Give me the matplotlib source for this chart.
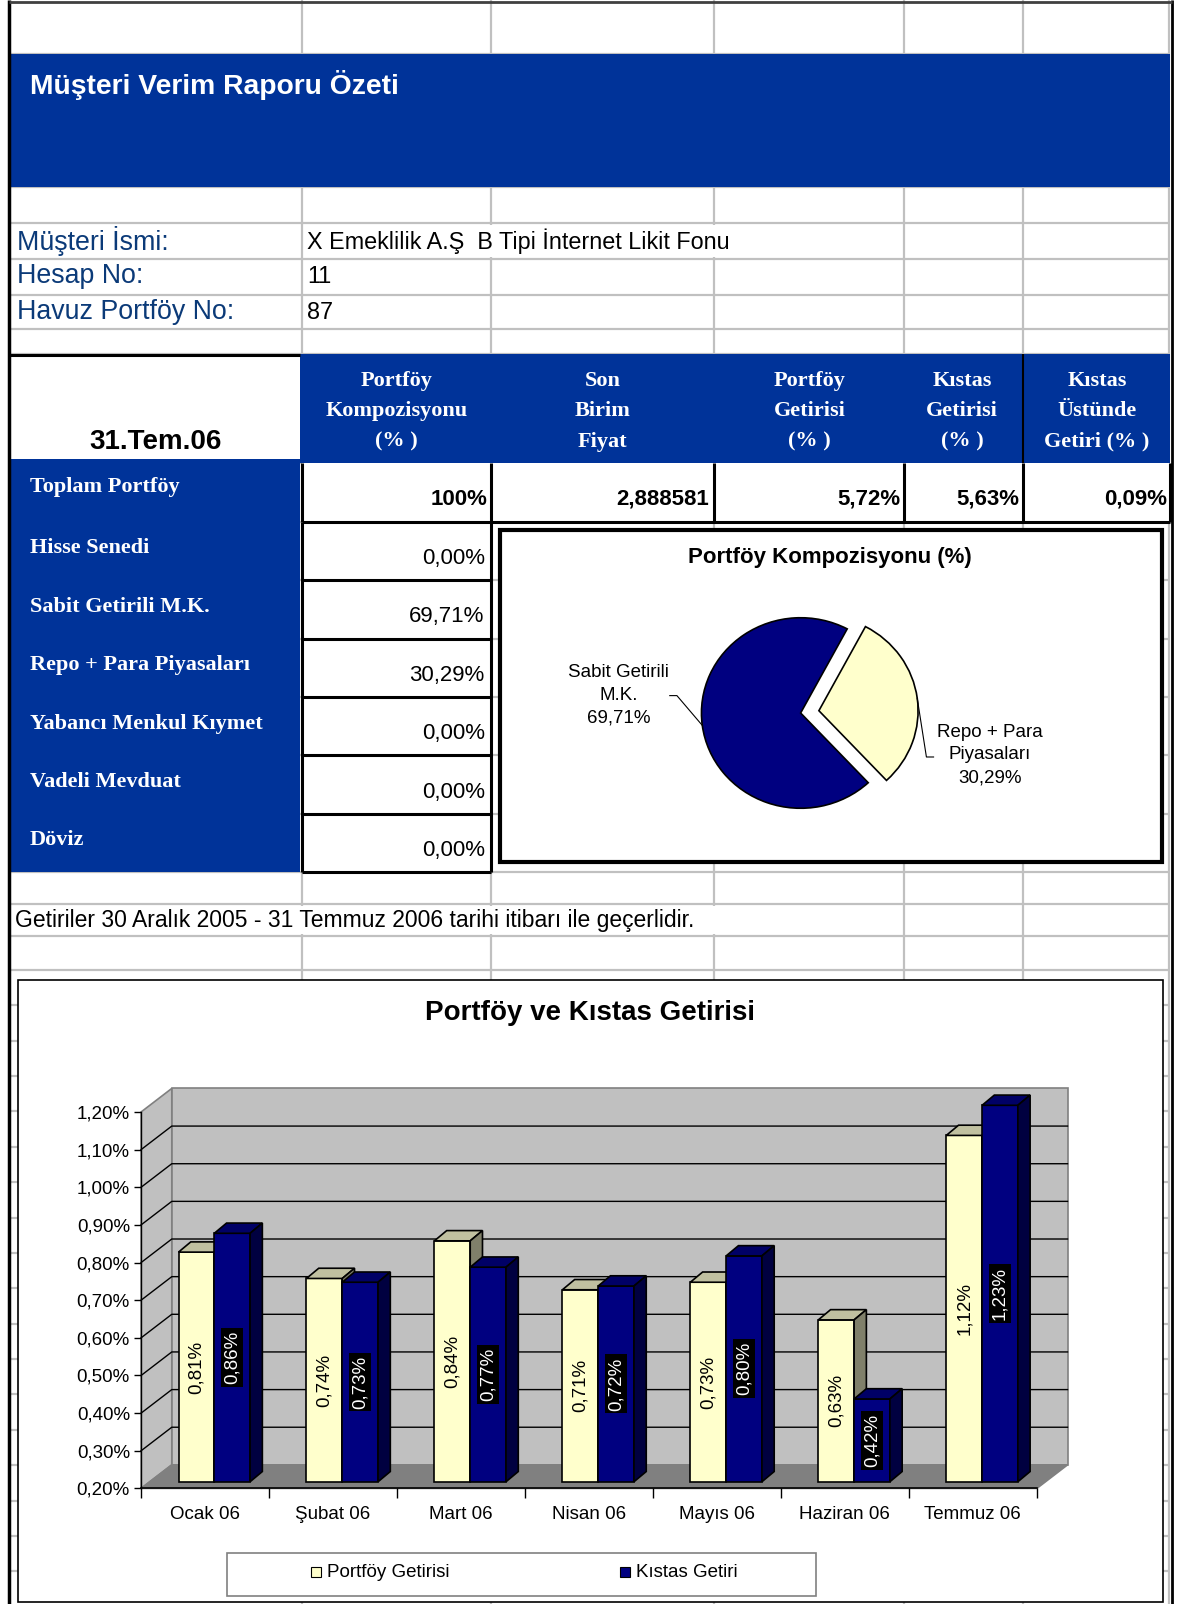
import numpy as np
import matplotlib
matplotlib.use("Agg")
import matplotlib.pyplot as plt
from matplotlib.patches import Rectangle, Polygon

SANS = "Liberation Sans"
SERIF = "Liberation Serif"
plt.rcParams["font.family"] = [SANS, "DejaVu Sans"]

# sheet layout units (scaled onto the 1180x1604 output)
W, H = 1154, 1568

HEAD_BLUE = "#003399"
LABEL_BLUE = "#0B3A78"
NAVY = "#000080"
CREAM = "#FFFFCC"
GRID = "#C0C0C0"

report_title = "Müşteri Verim Raporu Özeti"
info_labels = ["Müşteri İsmi:", "Hesap No:", "Havuz Portföy No:"]
info_values = ["X Emeklilik A.Ş  B Tipi İnternet Likit Fonu", "11", "87"]
report_date = "31.Tem.06"
col_headers = [
    ["Portföy", "Kompozisyonu", "(% )"],
    ["Son", "Birim", "Fiyat"],
    ["Portföy", "Getirisi", "(% )"],
    ["Kıstas", "Getirisi", "(% )"],
    ["Kıstas", "Üstünde", "Getiri (% )"],
]
asset_names = ["Hisse Senedi", "Sabit Getirili M.K.", "Repo + Para Piyasaları",
               "Yabancı Menkul Kıymet", "Vadeli Mevduat", "Döviz"]
asset_shares = [0.00, 69.71, 30.29, 0.00, 0.00, 0.00]
unit_price = "2,888581"
portfolio_return = 5.72
benchmark_return = 5.63
note = "Getiriler 30 Aralık 2005 - 31 Temmuz 2006 tarihi itibarı ile geçerlidir."

pie_title = "Portföy Kompozisyonu (%)"
pie_labels = ["Sabit Getirili\nM.K.", "Repo + Para\nPiyasaları"]
pie_values = [asset_shares[1], asset_shares[2]]

bar_title = "Portföy ve Kıstas Getirisi"
months = ["Ocak 06", "Şubat 06", "Mart 06", "Nisan 06", "Mayıs 06", "Haziran 06", "Temmuz 06"]
portfoy_getirisi = [0.81, 0.74, 0.84, 0.71, 0.73, 0.63, 1.12]
kistas_getiri = [0.86, 0.73, 0.77, 0.72, 0.80, 0.42, 1.23]
series_names = ["Portföy Getirisi", "Kıstas Getiri"]
y_ticks = [0.20, 0.30, 0.40, 0.50, 0.60, 0.70, 0.80, 0.90, 1.00, 1.10, 1.20]


def pct(v, nd=2):
    return f"{v:.{nd}f}%".replace(".", ",")


def frac(x0, y0, x1, y1):
    return [x0 / W, 1 - y1 / H, (x1 - x0) / W, (y1 - y0) / H]


fig = plt.figure(figsize=(11.8, 16.04), dpi=100)
base = fig.add_axes([0, 0, 1, 1])
base.set_xlim(0, W)
base.set_ylim(H, 0)
base.axis("off")


def box(x0, y0, x1, y1, fc="white", ec="none", lw=0.0, z=1):
    base.add_patch(Rectangle((x0, y0), x1 - x0, y1 - y0, facecolor=fc,
                             edgecolor=ec, linewidth=lw, zorder=z))


def line(xs, ys, color="black", lw=2.0, z=3):
    base.plot(xs, ys, color=color, linewidth=lw, zorder=z, solid_capstyle="butt")


def put(x, y, s, size=16, color="black", ha="left", weight="normal", family=SANS):
    base.text(x, y, s, fontsize=size, color=color, ha=ha, va="center",
              fontweight=weight, family=family, zorder=5)


# spreadsheet gridlines
pitch = 57.1
row_tops = [453, 510] + [510 + pitch * k for k in range(1, 6)]
row_bottom = 510 + pitch * 6
col_x = [295, 480, 698, 884, 1000]
row_y = [53, 183, 218, 253, 288, 322, 346] + row_tops + [row_bottom, 884, 915, 948] \
    + list(948 + 34.6 * np.arange(1, 18))
for y in row_y:
    line([9, 1144], [y, y], GRID, 1.6, z=0.5)
for x in col_x + [1143]:
    line([x, x], [0, H], GRID, 1.6, z=0.5)
# text overflowing into the next cells hides the gridlines
box(297, 220, 882, 251, z=0.8)
box(11, 886, 882, 913, z=0.8)

# title band
box(10, 53, 1144, 183, HEAD_BLUE)
put(29, 83, report_title, size=20.3, color="white", weight="bold")

# client info
for i, (lab, val) in enumerate(zip(info_labels, info_values)):
    yc = [236, 270, 305][i]
    put(17, yc, lab, size=19.3, color=LABEL_BLUE)
    put(300, yc, val, size=16.8)

# table header
box(293, 346, 1144, 453, HEAD_BLUE)
box(10, 346, 293, 449)
line([10, 293], [347, 347], lw=2.2)
line([1000, 1000], [346, 453], lw=1.5)
put(152, 432, report_date, size=20, ha="center", weight="bold")
head_cx = [388, 589, 792, 941, 1073]
for cx, lines in zip(head_cx, col_headers):
    for k, s in enumerate(lines):
        put(cx, 372 + 30 * k, s, size=16, color="white", ha="center",
            weight="bold", family=SERIF)

# row labels
box(10, 449, 293, row_bottom, HEAD_BLUE)
put(29, row_tops[0] + 23, "Toplam Portföy", size=16, color="white",
    weight="bold", family=SERIF)
for top, name in zip(row_tops[1:], asset_names):
    put(29, top + 26, name, size=16, color="white", weight="bold", family=SERIF)

# totals row
box(295, 453, 1144, 510)
for x in [295, 480, 698, 884, 1000, 1144]:
    line([x, x], [453, 510], lw=2.2)
line([295, 1144], [510, 510], lw=2.2)
total_share = sum(asset_shares)
excess = portfolio_return - benchmark_return
totals = [f"{total_share:.0f}%", unit_price, pct(portfolio_return),
          pct(benchmark_return), pct(excess)]
for x_right, s in zip([477, 693, 881, 997, 1141], totals):
    put(x_right, 488, s, size=16, ha="right", weight="bold")

# composition column
box(295, 510, 480, row_bottom)
line([295, 295], [510, row_bottom], lw=2.2)
line([480, 480], [510, row_bottom], lw=2.2)
for top, share in zip(row_tops[1:], asset_shares):
    line([295, 480], [top + pitch, top + pitch], lw=2.2)
    put(474, top + 36, pct(share), size=16, ha="right")

put(15, 900, note, size=16.5)

# sheet outline
line([9, 9], [0, H], lw=2.5, z=6)
line([1146.5, 1146.5], [0, H], lw=2.0, z=6)
line([9, 1146.5], [2, 2], "#404040", lw=2.0, z=6)

# ---- pie chart
box(489, 518, 1136, 843, "white", "black", lw=3, z=2)
pcx, pcy = 783, 697
ux, uy = 100.0, 96.0   # slightly flattened pie
pax = fig.add_axes(frac(489, 518, 1136, 843))
pax.patch.set_visible(False)
start = 62
radius = 0.97
explode = [0, 0.18]
pax.pie(pie_values, colors=[NAVY, CREAM], startangle=start, explode=explode,
        radius=radius, wedgeprops=dict(edgecolor="black", linewidth=1.2))
pax.set_aspect("auto")
pax.set_xlim((489 - pcx) / ux, (1136 - pcx) / ux)
pax.set_ylim((pcy - 843) / uy, (pcy - 518) / uy)
pax.axis("off")
pax.text((812 - pcx) / ux, (pcy - 545) / uy, pie_title, ha="center",
         va="center", fontsize=16, fontweight="bold")

angles = np.cumsum([0] + pie_values) / sum(pie_values) * 360 + start
mids = np.deg2rad((angles[:-1] + angles[1:]) / 2)
edge_pts = [((e + radius) * np.cos(m), (e + radius) * np.sin(m))
            for e, m in zip(explode, mids)]
# left label
ex, ey = edge_pts[0]
ly = (pcy - 680) / uy
pax.plot([(655 - pcx) / ux, (662 - pcx) / ux, ex], [ly, ly, ey], color="black",
         lw=0.8, clip_on=False)
pax.text((605 - pcx) / ux, ly, f"{pie_labels[0]}\n{pct(pie_values[0])}", ha="center",
         va="center", fontsize=13.5, linespacing=1.45)
# right label
ex, ey = edge_pts[1]
ry = (pcy - 740) / uy
pax.plot([ex, (906 - pcx) / ux, (913 - pcx) / ux], [ey, ry, ry], color="black",
         lw=0.8, clip_on=False)
pax.text((968 - pcx) / ux, (pcy - 738) / uy, f"{pie_labels[1]}\n{pct(pie_values[1])}",
         ha="center", va="center", fontsize=13.5, linespacing=1.45)

# ---- 3D style bar chart
box(18, 958, 1137, 1566, "white", "black", lw=1.2, z=2)
put(577, 990, bar_title, size=20, ha="center", weight="bold")

PXC = 876 / 7   # layout units per category
PY = 368.0      # layout units per 1 %
X0, Y0 = 138, 1455
ax = fig.add_axes(frac(X0 - 0.5 * PXC, Y0 - 1.15 * PY, X0 + 7.5 * PXC, Y0 + 0.1 * PY))
ax.patch.set_visible(False)
ax.set_xlim(-0.5, 7.5)
ax.set_ylim(0.1, 1.35)

ymin, ymax = y_ticks[0], y_ticks[-1]
n = len(months)
WX, WY = 30 / PXC, 23 / PY       # wall depth
FX, FY = 9 / PXC, 6.5 / PY       # front face of the bars
DX, DY = 12 / PXC, 10 / PY       # bar depth
BW = 35 / PXC

wall = "#C0C0C0"
edge = "#808080"
ax.add_patch(Polygon([(0, ymin), (WX, ymin + WY), (WX, ymax + WY), (0, ymax)],
                     facecolor=wall, edgecolor=edge, lw=1.2, zorder=1))
ax.add_patch(Rectangle((WX, ymin + WY), n, ymax - ymin, facecolor=wall,
                       edgecolor=edge, lw=1.2, zorder=1))
ax.add_patch(Polygon([(0, ymin), (n, ymin), (n + WX, ymin + WY), (WX, ymin + WY)],
                     facecolor="#808080", edgecolor=edge, lw=1.2, zorder=1))
for t in y_ticks[1:-1]:
    ax.plot([0, WX, n + WX], [t, t + WY, t + WY], color="black", lw=1.0, zorder=1.5)

x = np.arange(n)
series = [
    (portfoy_getirisi, x + 0.5 + FX - BW, CREAM, "#C0C0A0", "#80806A", "black", None),
    (kistas_getiri, x + 0.5 + FX, NAVY, "#000066", "#000040", "white", "black"),
]
for z, (vals, xl, front, top_c, side_c, tc, bg) in enumerate(series):
    tops = np.minimum(vals, ymax) + FY
    bottom = ymin + FY
    ax.bar(xl, tops - bottom, bottom=bottom, width=BW, align="edge",
           color=front, edgecolor="black", linewidth=1.2, zorder=3 + 2 * z)
    for xi, ti, v in zip(xl, tops, vals):
        ax.add_patch(Polygon([(xi, ti), (xi + BW, ti), (xi + BW + DX, ti + DY), (xi + DX, ti + DY)],
                             facecolor=top_c, edgecolor="black", lw=1.2, zorder=3 + 2 * z))
        ax.add_patch(Polygon([(xi + BW, bottom), (xi + BW + DX, bottom + DY),
                              (xi + BW + DX, ti + DY), (xi + BW, ti)],
                             facecolor=side_c, edgecolor="black", lw=1.2, zorder=3 + 2 * z))
        bbox = None if bg is None else dict(boxstyle="square,pad=0.15", fc=bg, ec="none")
        ax.text(xi + BW / 2, (bottom + ti) / 2, pct(v), rotation=90, ha="center",
                va="center", fontsize=13.5, color=tc, bbox=bbox, zorder=4 + 2 * z)

for side in ["top", "right"]:
    ax.spines[side].set_visible(False)
ax.spines["left"].set_position(("data", 0))
ax.spines["left"].set_bounds(ymin, ymax)
ax.spines["bottom"].set_position(("data", ymin))
ax.spines["bottom"].set_bounds(0, n)
ax.spines["left"].set_linewidth(1.0)
ax.spines["bottom"].set_linewidth(1.2)
ax.set_yticks(y_ticks)
ax.set_yticklabels([pct(t) for t in y_ticks])
ax.set_xticks(np.arange(n + 1))
ax.set_xticklabels([])
ax.set_xticks(x + 0.5, minor=True)
ax.set_xticklabels(months, minor=True)
ax.tick_params(axis="y", direction="out", length=5, width=1.0, pad=3, labelsize=13.5)
ax.tick_params(axis="x", which="major", direction="out", length=7, width=1.0)
ax.tick_params(axis="x", which="minor", length=0, pad=13, labelsize=13.5)

# legend
box(222, 1518, 798, 1560, "white", "#808080", lw=1.2, z=2)
for sx, color, name in [(304, CREAM, series_names[0]), (606, NAVY, series_names[1])]:
    box(sx, 1532, sx + 10, 1542, color, "black", lw=0.8, z=3)
    put(sx + 16, 1537, name, size=13.5)

fig.savefig("out.png", dpi=100)
